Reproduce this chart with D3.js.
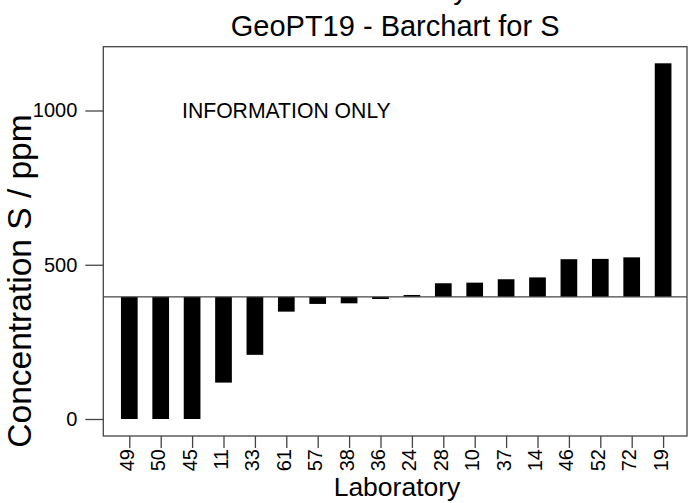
<!DOCTYPE html>
<html><head><meta charset="utf-8">
<script src="https://cdn.jsdelivr.net/npm/d3@7"></script>
<style>
html,body{margin:0;padding:0;background:#fff;}
svg{display:block;font-family:"Liberation Sans",Arial,sans-serif;}
</style></head>
<body>
<script>
const labs = ["49","50","45","11","33","61","57","38","36","24","28","10","37","14","46","52","72","19"];
const values = [0,0,0,118,208,348,373,375,389,402,440,442,453,459,518,519,524,1153];
const refValue = 396;
const yTicks = [0,500,1000];
const titleLines = ["Preliminary","GeoPT19 - Barchart for S"];

const W=688,H=503;
const boxL=103.3,boxR=687,boxT=46.7,boxB=436;
const svg=d3.select("body").append("svg").attr("width",W).attr("height",H);

const y=d3.scaleLinear().domain([0,1000]).range([419,110.5]);
const x=d3.scaleLinear().domain([0,labs.length-1]).range([129.3,663.1]);
const bw=16.7;
const axisCol="#444";

// bars
svg.append("g").selectAll("rect").data(values).join("rect")
  .attr("x",(d,i)=>x(i)-bw/2)
  .attr("width",bw)
  .attr("y",d=>Math.min(y(d),y(refValue)))
  .attr("height",d=>Math.abs(y(d)-y(refValue)))
  .attr("fill","#000");

// reference line
svg.append("line").attr("x1",boxL).attr("x2",boxR)
  .attr("y1",y(refValue)).attr("y2",y(refValue))
  .attr("stroke",axisCol).attr("stroke-width",1.3);

// box
svg.append("rect").attr("x",boxL).attr("y",boxT).attr("width",boxR-boxL).attr("height",boxB-boxT)
  .attr("fill","none").attr("stroke",axisCol).attr("stroke-width",1.3);

// y axis
const ya=svg.append("g").attr("transform",`translate(${boxL},0)`)
  .call(d3.axisLeft(y).tickValues(yTicks).tickSize(18).tickPadding(8).tickFormat(d3.format("d")));
ya.select(".domain").remove();
ya.selectAll("line").attr("stroke",axisCol).attr("stroke-width",1.3);
ya.selectAll("text").attr("font-size",20).attr("fill","#000").attr("font-family","Liberation Sans, Arial, sans-serif");

// x axis
const xa=svg.append("g").attr("transform",`translate(0,${boxB})`)
  .call(d3.axisBottom(x).tickValues(d3.range(labs.length)).tickSize(12).tickFormat(i=>labs[i]));
xa.select(".domain").remove();
xa.selectAll("line").attr("stroke",axisCol).attr("stroke-width",1.3);
xa.selectAll("text")
  .attr("font-size",20).attr("fill","#000").attr("font-family","Liberation Sans, Arial, sans-serif")
  .attr("text-anchor","end").attr("y",0).attr("dy","4px")
  .attr("transform","translate(0,13) rotate(-90)");

// titles
svg.append("g").selectAll("text").data(titleLines).join("text")
  .attr("x",(boxL+boxR)/2).attr("y",(d,i)=>-1+i*36.7)
  .attr("text-anchor","middle").attr("font-size",29).attr("fill","#000")
  .text(d=>d);

svg.append("text").attr("x",397).attr("y",496).attr("text-anchor","middle")
  .attr("font-size",26.5).attr("fill","#000").text("Laboratory");

svg.append("text").attr("transform","translate(31,281) rotate(-90)")
  .attr("text-anchor","middle").attr("font-size",33.5).attr("fill","#000")
  .text("Concentration S / ppm");

svg.append("text").attr("x",182).attr("y",117.5).attr("font-size",21.2).attr("fill","#000")
  .text("INFORMATION ONLY");
</script>
</body></html>
